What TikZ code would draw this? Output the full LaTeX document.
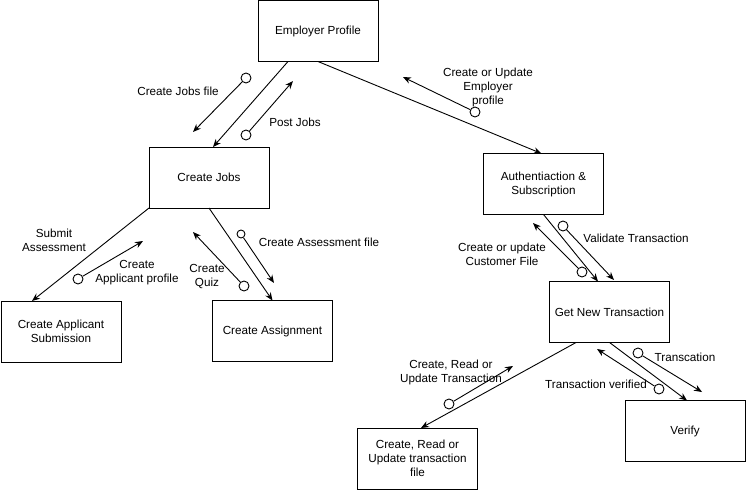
\documentclass[tikz,border=0pt]{standalone}
\usepackage{fontspec}
\setmainfont{Liberation Sans}
\usepackage{tikz}
\usetikzlibrary{arrows.meta, calc}

\begin{document}
\begin{tikzpicture}[x=1pt, y=-1pt,
    font=\fontsize{11.7}{14}\selectfont,
    box/.style={draw, line width=0.9pt, minimum width=120pt, minimum height=61pt, align=center, outer sep=0pt},
    lbl/.style={align=center, inner sep=0pt},
    dot/.style={draw, fill=white, circle, line width=0.9pt, minimum size=10pt, inner sep=0pt},
    smalldot/.style={dot, minimum size=8pt},
    flow/.style={line width=0.9pt, -{Stealth[length=8pt,width=6.5pt]}}]
    \useasboundingbox (0,0) rectangle (747,490);

    % processes
    \node[box] (ep) at (318,31) {Employer Profile};
    \node[box] (cj) at (209,177.5) {Create Jobs};
    \node[box] (auth) at (543.5,184) {Authentiaction \&\\Subscription};
    \node[box] (cas) at (61,331.5) {Create Applicant\\Submission};
    \node[box] (ca) at (272.5,331) {Create Assignment};
    \node[box] (gnt) at (609.5,312) {Get New Transaction};
    \node[box] (cru) at (417.5,458.5) {Create, Read or\\Update transaction\\file};
    \node[box] (ver) at (685,431) {Verify};

    % links between processes
    \draw[flow] ([xshift=-30pt]ep.south) -- ([xshift=4pt]cj.north);
    \draw[flow] (ep.south) -- ([xshift=-2pt]auth.north);
    \draw[flow] (cj.south west) -- ([xshift=-29pt]cas.north);
    \draw[flow] (cj.south) -- (ca.north);
    \draw[flow] (auth.south) -- ([xshift=-11.5pt]gnt.north);
    \draw[flow] ([xshift=-33.5pt]gnt.south) -- ([xshift=3.5pt]cru.north);
    \draw[flow] (gnt.south) -- ([xshift=2pt]ver.north);

    % data flows
    \node[dot] (c1) at (246,78) {};        \coordinate (t1) at (193,132);
    \node[dot] (c2) at (246,135) {};       \coordinate (t2) at (293,81);
    \node[dot] (c3) at (475,112) {};       \coordinate (t3) at (403,77);
    \node[dot] (c4) at (78,279) {};        \coordinate (t4) at (143,241);
    \node[dot] (c5) at (244,286) {};       \coordinate (t5) at (193,232);
    \node[smalldot] (c6) at (241,234) {};  \coordinate (t6) at (274,283);
    \node[dot] (c7) at (582,272) {};       \coordinate (t7) at (533,223);
    \node[dot] (c8) at (563,226) {};       \coordinate (t8) at (614,280);
    \node[dot] (c9) at (449,404) {};       \coordinate (t9) at (513,366);
    \node[dot] (c10) at (638,353) {};      \coordinate (t10) at (702,392);
    \node[dot] (c11) at (659,389) {};      \coordinate (t11) at (597,349);
    \foreach \i in {1,...,11} {
        \draw[flow] (c\i) -- (t\i);
    }

    % labels
    \node[lbl] (l1) at (178,91) {Create Jobs file};
    \node[lbl] (l2) at (295,122) {Post Jobs};
    \node[lbl] (l3) at (488,87) {Create or Update\\Employer\\profile};
    \node[lbl] (l4) at (54,240) {Submit\\Assessment};
    \node[lbl] (l5) at (137,273) {Create\\Applicant profile};
    \node[lbl] (l6) at (207,277) {Create\\Quiz};
    \node[lbl] (l7) at (319,242) {Create Assessment file};
    \node[lbl] (l8) at (502,254) {Create or update\\Customer File};
    \node[lbl] (l9) at (636,238) {Validate Transaction};
    \node[lbl] (l10) at (451,372) {Create, Read or\\Update Transaction};
    \node[lbl] (l11) at (685,357) {Transcation};
    \node[lbl] (l12) at (596,384) {Transaction verified};
\end{tikzpicture}
\end{document}
